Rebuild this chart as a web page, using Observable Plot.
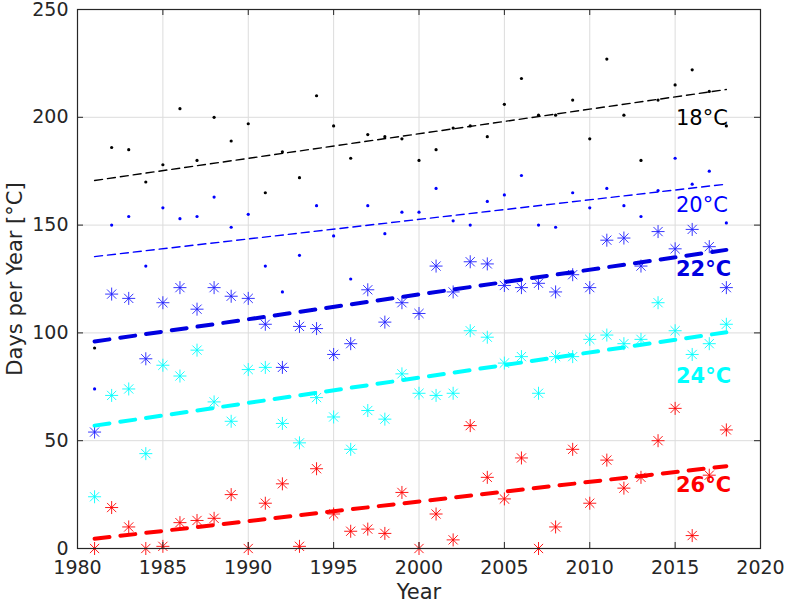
<!DOCTYPE html>
<html><head><meta charset="utf-8">
<script src="https://cdn.jsdelivr.net/npm/d3@7"></script>
<script src="https://cdn.jsdelivr.net/npm/@observablehq/plot@0.6"></script>
<style>body{margin:0;background:#fff}</style>
</head><body><div id="chart"></div>
<script>
const years = d3.range(1981, 2019);
const t18 = [93,186,185,170,178,204,180,200,189,197,165,184,172,210,196,181,192,191,190,180,185,195,196,191,206,218,201,201,208,190,227,201,180,208,215,222,212,196];
const t20 = [74,150,154,131,158,153,154,163,149,155,131,119,136,159,145,125,159,146,156,156,167,152,150,161,164,173,150,149,165,158,167,159,154,166,181,169,175,151];
const t22 = [54,118,116,88,114,121,111,121,117,116,104,84,103,102,90,95,120,105,114,109,131,119,133,132,122,121,123,119,127,121,143,144,131,147,139,148,140,121];
const t24 = [24,71,74,44,85,80,92,68,59,83,84,58,49,70,61,46,64,60,81,72,71,72,101,98,86,89,72,89,89,97,99,95,97,114,101,90,95,104];
const t26 = [0,19,10,0,1,12,13,14,25,0,21,30,1,37,16,8,9,7,26,0,16,4,57,33,23,42,0,10,46,21,41,28,33,50,65,6,34,55];
const seriesNames = ["18°C","20°C","22°C","24°C","26°C"];
const seriesColors = ["#000000","#0000ff","#2020ff","#00ffff","#ff0000"];
const lineColors = ["#000000","#0000ff","#0000e0","#00ffff","#ff0000"];
const trendStart = [170.7,135.4,96,57,4.5];
const trendEnd = [212.9,169,138.5,100.3,38.2];
const labelY = [199.7,159.3,129.6,80,29.5];
const xTicks = [1980,1985,1990,1995,2000,2005,2010,2015,2020];
const yTicks = [0,50,100,150,200,250];

const all = [t18,t20,t22,t24,t26];
const pts = [];
all.forEach((arr,i)=>arr.forEach((v,j)=>pts.push({year:years[j],v,s:i})));
const trends = [];
seriesNames.forEach((n,i)=>{trends.push({year:years[0],v:trendStart[i],s:i});trends.push({year:years[years.length-1],v:trendEnd[i],s:i});});
const labels = seriesNames.map((n,i)=>({n, v: labelY[i], s: i}));

const asterisk = {
  draw(ctx, size){
    const r = Math.sqrt(size/Math.PI);
    const d = r*Math.SQRT1_2;
    ctx.moveTo(0,-r);ctx.lineTo(0,r);
    ctx.moveTo(-r,0);ctx.lineTo(r,0);
    ctx.moveTo(-d,-d);ctx.lineTo(d,d);
    ctx.moveTo(-d,d);ctx.lineTo(d,-d);
  }
};
const font = "DejaVu Sans, sans-serif";
const thin = s => s < 2;
const chart = Plot.plot({
  width: 787, height: 606,
  marginLeft: 77, marginRight: 27, marginTop: 9, marginBottom: 58,
  style: {fontFamily: font, fontSize: "19px", color: "#262626", background: "#fff"},
  x: {domain: [1980, 2020]},
  y: {domain: [0, 250]},
  marks: [
    Plot.gridX(xTicks, {stroke: "#dcdcdc", strokeOpacity: 1}),
    Plot.gridY(yTicks, {stroke: "#dcdcdc", strokeOpacity: 1}),
    Plot.dot(pts.filter(d=>thin(d.s)), {x:"year", y:"v", r:1.6, fill: d=>seriesColors[d.s], stroke:null}),
    Plot.dot(pts.filter(d=>!thin(d.s)), {x:"year", y:"v", r:6.5, symbol: asterisk, stroke: d=>seriesColors[d.s], strokeWidth: 0.9, fill: "none"}),
    ...[0,1].map(i=>Plot.line(trends.filter(d=>d.s===i), {x:"year", y:"v", stroke: lineColors[i], strokeWidth: 1.4, strokeDasharray: "8,5"})),
    ...[2,3,4].map(i=>Plot.line(trends.filter(d=>d.s===i), {x:"year", y:"v", stroke: lineColors[i], strokeWidth: 4, strokeDasharray: "15,11"})),
    Plot.text(labels.filter(d=>d.s<2), {x: 2015.05, y: "v", text: "n", textAnchor: "start", fill: d=>lineColors[d.s], fontSize: 21}),
    Plot.text(labels.filter(d=>d.s>=2), {x: 2015.05, y: "v", text: "n", textAnchor: "start", fill: d=>lineColors[d.s], fontSize: 21, fontWeight: "bold"}),
    Plot.ruleX(xTicks, {x: d=>d, y1: 0, y2: 0, insetTop: -6, stroke: "#262626"}),
    Plot.ruleX(xTicks, {x: d=>d, y1: 250, y2: 250, insetBottom: -6, stroke: "#262626"}),
    Plot.ruleY(yTicks, {y: d=>d, x1: 1980, x2: 1980, insetRight: -6, stroke: "#262626"}),
    Plot.ruleY(yTicks, {y: d=>d, x1: 2020, x2: 2020, insetLeft: -6, stroke: "#262626"}),
    Plot.frame({stroke: "#262626", strokeWidth: 1.2}),
    Plot.axisX(xTicks, {tickSize: 0, tickPadding: 12, fontSize: 19, tickFormat: d=>String(d), label: "Year", fontSize: 19, labelAnchor: "center", labelOffset: 50, labelArrow: "none"}),
    Plot.axisY(yTicks, {tickSize: 0, tickPadding: 9, fontSize: 19, label: "Days per Year [°C]", labelAnchor: "center", labelOffset: 70, labelArrow: "none"})
  ]
});
document.getElementById("chart").append(chart);
// enlarge axis titles slightly
chart.querySelectorAll("g[aria-label='x-axis label'] text, g[aria-label='y-axis label'] text").forEach(t=>t.setAttribute("font-size","21"));
</script></body></html>
